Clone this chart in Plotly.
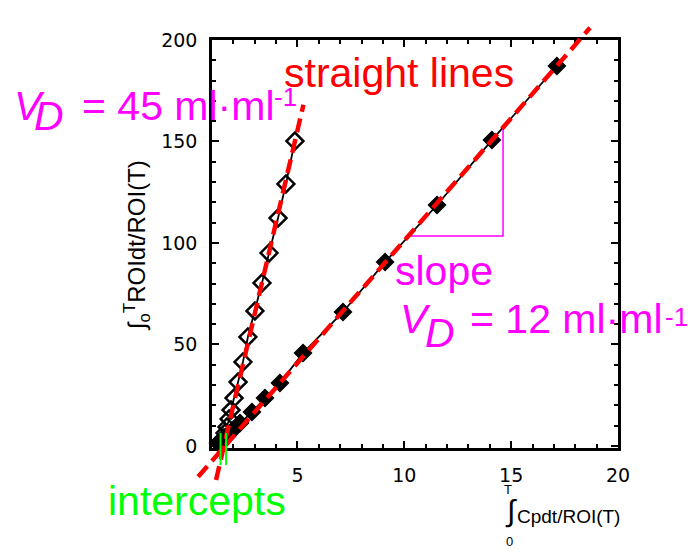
import numpy as np
import plotly.graph_objects as go

W, H = 688, 559

# ---------------- data ----------------
x_vd45 = [1.56, 1.61, 1.70, 1.80, 1.89, 2.03, 2.22, 2.45, 2.68, 3.01, 3.34, 3.67, 4.09, 4.46, 4.88]
y_vd45 = [3.9, 6.4, 9.4, 13.3, 17.7, 23.6, 31.5, 41.4, 53.7, 66.5, 80.3, 95.1, 112.3, 129.1, 150.2]

x_vd12 = [1.28, 1.47, 1.70, 1.98, 2.31, 2.87, 3.48, 4.18, 5.26, 7.13, 9.10, 11.53, 14.10, 17.14]
y_vd12 = [1.5, 3.0, 4.9, 7.9, 11.3, 16.7, 23.6, 31.0, 45.8, 66.0, 90.6, 118.7, 150.7, 187.2]

# red dashed "straight lines": slope and x-intercept, drawn over an x extent
fit_slopes = [45.2, 12.06]
fit_x_intercepts = [1.56, 1.61]
fit_x_extents = [[1.19, 5.28], [0.35, 18.69]]

# green intercept marks
intercept_marks_x = [1.40, 1.66]
intercept_marks_y = [6.4, -9.4]

# magenta slope triangle
slope_tri_x = [10.12, 14.62, 14.62]
slope_tri_y = [103.4, 103.4, 157.1]

x_range = [1, 20]
y_range = [-1, 200]
x_dtick, x_minor = 5, 1
y_dtick, y_minor = 50, 10

# ---------------- layout geometry ----------------
dx0, dx1 = 212 / W, 618 / W
dy0, dy1 = 1 - 448 / H, 1 - 40 / H

RED = "#FF0000"
MAG = "#FF00FF"
GREEN = "#00FF00"
TXT = "Liberation Sans, Arial, sans-serif"

fig = go.Figure()

# data series (main axes)
fig.add_trace(go.Scatter(
    x=x_vd45, y=y_vd45, mode="lines+markers",
    line=dict(color="black", width=1.8),
    marker=dict(symbol="diamond-open", size=13, color="black", line=dict(width=2.5, color="black")),
    showlegend=False, cliponaxis=False))
fig.add_trace(go.Scatter(
    x=x_vd12, y=y_vd12, mode="lines+markers",
    line=dict(color="black", width=1.8),
    marker=dict(symbol="diamond", size=13, color="black", line=dict(width=1.5, color="black")),
    showlegend=False, cliponaxis=False))

# slope triangle
fig.add_trace(go.Scatter(x=slope_tri_x, y=slope_tri_y, mode="lines",
                         line=dict(color=MAG, width=1.5), showlegend=False))

# overlay axes spanning the whole figure, same scale as main axes
kx = (x_range[1] - x_range[0]) / (dx1 - dx0)
ky = (y_range[1] - y_range[0]) / (dy1 - dy0)
x2_range = [x_range[0] - dx0 * kx, x_range[1] + (1 - dx1) * kx]
y2_range = [y_range[0] - dy0 * ky, y_range[1] + (1 - dy1) * ky]

for s, x0, ext in zip(fit_slopes, fit_x_intercepts, fit_x_extents):
    xs = np.array(ext)
    ys = s * (xs - x0)
    fig.add_trace(go.Scatter(x=xs, y=ys, xaxis="x2", yaxis="y2", mode="lines",
                             line=dict(color=RED, width=4.5, dash="14px,7px"),
                             showlegend=False))

for xv in intercept_marks_x:
    fig.add_trace(go.Scatter(x=[xv, xv], y=intercept_marks_y, xaxis="x2", yaxis="y2",
                             mode="lines", line=dict(color=GREEN, width=2),
                             showlegend=False))

axis_common = dict(showgrid=False, zeroline=False, showline=True, linecolor="black",
                   linewidth=2.5, mirror="ticks", ticks="inside", ticklen=7,
                   tickwidth=2, tickcolor="black", automargin=False,
                   tickfont=dict(family="DejaVu Sans", size=19, color="black"))

fig.update_layout(
    width=W, height=H, margin=dict(l=0, r=0, t=0, b=0, pad=0, autoexpand=False),
    paper_bgcolor="white", plot_bgcolor="rgba(0,0,0,0)",
    xaxis=dict(domain=[dx0, dx1], range=x_range, anchor="y", tickmode="linear",
               tick0=0, dtick=x_dtick, ticklabelstandoff=8,
               minor=dict(tickmode="linear", tick0=0, dtick=x_minor, ticks="inside",
                          ticklen=4, tickwidth=1.5, tickcolor="black"),
               **axis_common),
    yaxis=dict(domain=[dy0, dy1], range=y_range, anchor="x", tickmode="linear",
               tick0=0, dtick=y_dtick, ticklabelstandoff=8,
               minor=dict(tickmode="linear", tick0=0, dtick=y_minor, ticks="inside",
                          ticklen=4, tickwidth=1.5, tickcolor="black"),
               **axis_common),
    xaxis2=dict(domain=[0, 1], range=x2_range, anchor="y2", visible=False, fixedrange=True),
    yaxis2=dict(domain=[0, 1], range=y2_range, anchor="x2", visible=False, fixedrange=True),
)


def P(px, py):
    return px / W, 1 - py / H


def ann(text, px, py, size, color, xanchor="left", yanchor="middle", family=TXT, angle=0):
    x, y = P(px, py)
    fig.add_annotation(x=x, y=y, xref="paper", yref="paper", text=text, showarrow=False,
                       xanchor=xanchor, yanchor=yanchor, textangle=angle,
                       font=dict(family=family, size=size, color=color))


ann("straight lines", 282, 73, 41, RED)
ann("<i>V</i>", 12, 106, 41, MAG)
ann("<i>D</i>", 32, 116, 41, MAG)
ann("= 45 ml·ml", 80, 106, 41, MAG)
ann("-1", 272, 97, 26, MAG)
ann("slope", 393, 271, 41, MAG)
ann("<i>V</i>", 398, 319, 41, MAG)
ann("<i>D</i>", 423, 333, 41, MAG)
ann("= 12 ml·ml", 468, 319, 41, MAG)
ann("-1", 663, 317, 26, MAG)
ann("intercepts", 288, 501, 41, GREEN, xanchor="right")

# axis titles
ann("∫<sub>o</sub><sup>T</sup>ROIdt/ROI(T)", 137, 246, 24, "black", xanchor="center", angle=-90)
ann("T", 508, 489, 13, "black", xanchor="center")
ann("∫", 511, 511, 30, "black", xanchor="center")
ann("0", 509, 541, 13, "black", xanchor="center")
ann("Cpdt/ROI(T)", 515, 516, 19, "black")

fig.write_html("out.html", config={"displayModeBar": False})
